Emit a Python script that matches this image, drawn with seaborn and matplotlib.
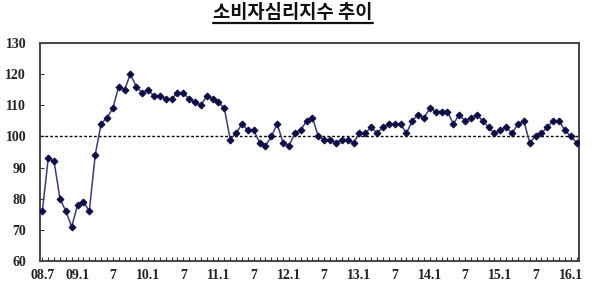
import matplotlib
matplotlib.use("Agg")
import matplotlib.pyplot as plt
import seaborn as sns
import pandas as pd
from matplotlib.lines import Line2D

title = "소비자심리지수 추이"
tick_labels = ["08.7", "09.1", "7", "10.1", "7", "11.1", "7", "12.1", "7",
               "13.1", "7", "14.1", "7", "15.1", "7", "16.1"]
csi = [76, 93, 92, 80, 76, 71, 78, 79, 76, 94, 104, 106, 109, 116, 115, 120,
       116, 114, 115, 113, 113, 112, 112, 114, 114, 112, 111, 110, 113, 112,
       111, 109, 99, 101, 104, 102, 102, 98, 97, 100, 104, 98, 97, 101, 102,
       105, 106, 100, 99, 99, 98, 99, 99, 98, 101, 101, 103, 101, 103, 104,
       104, 104, 101, 105, 107, 106, 109, 108, 108, 108, 104, 107, 105, 106,
       107, 105, 103, 101, 102, 103, 101, 104, 105, 98, 100, 101, 103, 105,
       105, 102, 100, 98]
baseline = 100

sns.set_theme(style="white")
plt.rcParams['font.family'] = ['Liberation Serif', 'DejaVu Sans']

df = pd.DataFrame({"month": range(len(csi)), "csi": csi})

fig = plt.figure(figsize=(5.97, 3.0), dpi=100)
ax = fig.add_axes([40/597, 1-261/300, (579-40)/597, (261-43)/300])

ax.axhline(baseline, color="black", lw=1.0, ls=(0, (2, 1.5)), zorder=1)
sns.lineplot(data=df, x="month", y="csi", ax=ax, color="#3b3b78", lw=1.1,
             marker="D", markersize=3.5, markerfacecolor="#0d0d45",
             markeredgecolor="#0d0d45", zorder=3)

ax.set_xlim(-0.4, len(csi) - 1 + 0.4)
ax.set_ylim(60, 130)
ax.set_yticks(range(60, 131, 10))
ax.set_xticks(range(0, 6 * len(tick_labels), 6))
ax.set_xticklabels(tick_labels)
ax.set_xticks(range(len(csi)), minor=True)
ax.set_xlabel("")
ax.set_ylabel("")

for lab in ax.get_xticklabels() + ax.get_yticklabels():
    lab.set_fontweight("bold")
    lab.set_fontsize(10)
    lab.set_color("#222222")

ax.tick_params(axis="x", which="both", direction="in", length=3, width=0.8,
               color="#333333", bottom=True, pad=6)
ax.tick_params(axis="y", which="major", direction="in", length=3, width=0.8,
               color="#333333", left=True, pad=10)

for s in ax.spines.values():
    s.set_visible(True)
    s.set_color("#444444")
    s.set_linewidth(1.4)

t = fig.text(293/597, 1-12/300, title, ha="center", va="center",
             fontsize=13.5, fontweight="bold", family=["Noto Sans CJK KR"],
             color="#111111")
fig.canvas.draw()
bb = t.get_window_extent()
x0, x1 = bb.x0 / fig.bbox.width, bb.x1 / fig.bbox.width
yl = (bb.y0 - 1.0) / fig.bbox.height
fig.add_artist(Line2D([x0, x1], [yl, yl], color="#111111", lw=1.6,
                      transform=fig.transFigure))

fig.savefig("out.png", dpi=100)
